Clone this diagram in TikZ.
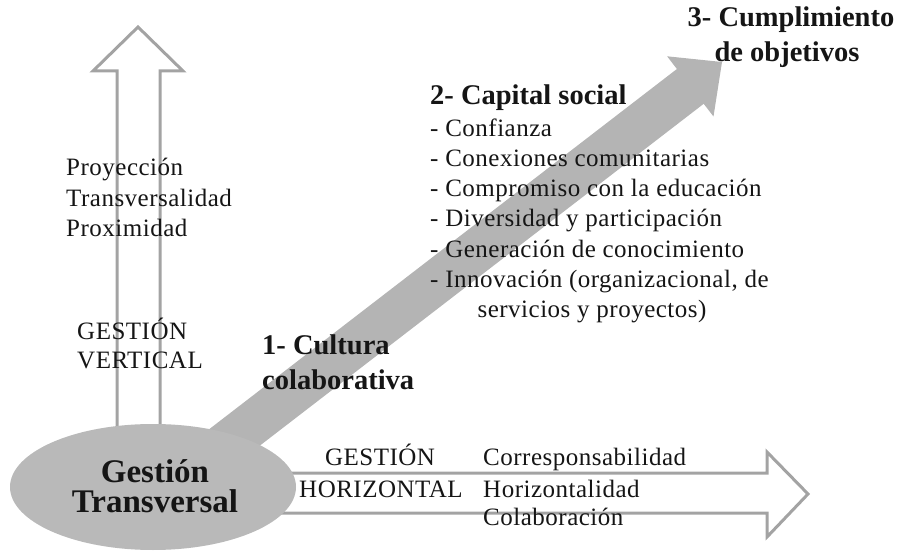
\documentclass[tikz,border=0pt]{standalone}
\usepackage{fontspec}
\usetikzlibrary{shapes.geometric}
\setmainfont{Liberation Serif}
\newfontfamily\rsfont[LetterSpace=2]{Liberation Serif}
\definecolor{outl}{HTML}{A3A3A3}
\definecolor{band}{HTML}{B4B4B4}
\definecolor{blob}{HTML}{B9B9B9}
\definecolor{ink}{HTML}{151515}
\begin{document}
\begin{tikzpicture}[x=1pt,y=-1pt,
  reg/.style={inner sep=0pt,text=ink,font=\rsfont\fontsize{25}{30}\selectfont},
  bld/.style={inner sep=0pt,text=ink,font=\bfseries\fontsize{28.5}{34}\selectfont},
  big/.style={inner sep=0pt,text=ink,font=\bfseries\fontsize{33}{38}\selectfont},
  hollow/.style={draw=outl,line width=3pt,miter limit=10,line join=miter}]
\useasboundingbox (0,0) rectangle (924,553);
% vertical hollow arrow
\draw[hollow] (117,440) -- (117,71) -- (93,71) -- (138,27) -- (183,71) -- (160,71) -- (160,440);
% horizontal hollow arrow
\draw[hollow] (250,473) -- (767,473) -- (767,452) -- (808,494) -- (767,537) -- (767,513) -- (250,513);
% diagonal solid arrow
\fill[band] (186.6,446.6) -- (676.9,69.0) -- (667.1,56.3) -- (722,62) -- (713.5,116.5) -- (703.7,103.8) -- (213.4,481.4) -- cycle;
% ellipse
\node[ellipse,fill=blob,minimum width=286pt,minimum height=126pt,inner sep=0pt] (gt) at (153,487) {};
\node[big,anchor=base] (g1) at (155,482) {Gestión};
\node[big,anchor=base] (g2) at (155,512) {Transversal};
% vertical labels
\node[reg,anchor=base west] (p1) at (66,176) {Proyección};
\node[reg,anchor=base west] (p2) at (66,207) {Transversalidad};
\node[reg,anchor=base west] (p3) at (66,237) {Proximidad};
\node[reg,anchor=base west] (v1) at (77,340) {GESTIÓN};
\node[reg,anchor=base west] (v2) at (77,368) {VERTICAL};
% horizontal labels
\node[reg,anchor=base] (h1) at (380,465) {GESTIÓN};
\node[reg,anchor=base] (h2) at (381,497) {HORIZONTAL};
\node[reg,anchor=base west] (c1) at (483,465) {Corresponsabilidad};
\node[reg,anchor=base west] (c2) at (483,497) {Horizontalidad};
\node[reg,anchor=base west] (c3) at (483,525) {Colaboración};
% diagonal labels
\node[bld,anchor=base west] (k1) at (262,355) {1- Cultura};
\node[bld,anchor=base west] (k2) at (262,389) {colaborativa};
\node[bld,anchor=base west] (s0) at (430,105) {2- Capital social};
\node[reg,anchor=base west] (s1) at (430,137) {- Confianza};
\node[reg,anchor=base west] (s2) at (430,167) {- Conexiones comunitarias};
\node[reg,anchor=base west] (s3) at (430,197) {- Compromiso con la educación};
\node[reg,anchor=base west] (s4) at (430,227) {- Diversidad y participación};
\node[reg,anchor=base west] (s5) at (430,258) {- Generación de conocimiento};
\node[reg,anchor=base west] (s6) at (430,288) {- Innovación (organizacional, de};
\node[reg,anchor=base] (s7) at (592,318) {servicios y proyectos)};
\node[bld,anchor=base] (o1) at (791,27) {3- Cumplimiento};
\node[bld,anchor=base] (o2) at (787,62) {de objetivos};
\end{tikzpicture}
\end{document}
